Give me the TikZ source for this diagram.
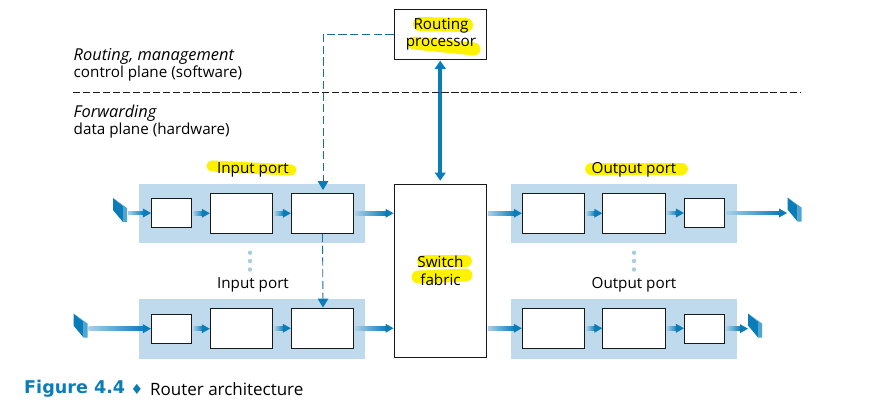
\documentclass[tikz,border=0pt]{standalone}
\usepackage{fontspec}
\setmainfont{Open Sans}
\newfontfamily\capfont{DejaVu Sans}
\usetikzlibrary{arrows.meta,calc}

\definecolor{panelblue}{HTML}{BFD9ED}
\definecolor{flowblue}{HTML}{0A7DB8}
\definecolor{flowpale}{HTML}{A9D0E8}
\definecolor{portlight}{HTML}{4FA5D2}
\definecolor{dotblue}{HTML}{A9CCE5}
\definecolor{dashblue}{HTML}{1A6F9E}
\definecolor{markyellow}{HTML}{FFF200}

\tikzset{
  panel/.style={fill=panelblue,minimum width=6.78cm,minimum height=1.78cm,inner sep=0pt},
  smallbox/.style={draw=black!90,fill=white,line width=0.9pt,minimum width=1.2cm,minimum height=0.88cm,inner sep=0pt},
  bigbox/.style={draw=black!90,fill=white,line width=0.9pt,minimum width=1.87cm,minimum height=1.21cm,inner sep=0pt},
  label/.style={font=\fontsize{13}{15}\selectfont,inner sep=0pt},
  marker/.style={draw=markyellow,line cap=round},
  ctrl/.style={draw=dashblue,line width=0.75pt,dash pattern=on 7pt off 3pt,shorten >=0.1cm},
  lineport/.pic={
    \fill[flowblue] (0,0) -- (10,8) -- (10,24) -- (0,12) -- cycle;
    \fill[portlight] (0,0) -- (14,10) -- (14,24) -- (10,24) -- (10,8) -- cycle;
  }
}

\newcommand{\flowline}[2]{%
  \shade[left color=flowpale,right color=flowblue]
    ($(#1)+(1,-1.8)$) rectangle ($(#2)+(-7,1.8)$);
  \fill[flowblue] ($(#2)+(-8,-4.5)$) -- (#2) -- ($(#2)+(-8,4.5)$) -- cycle;
}
\newcommand{\ctrltip}[1]{%
  \fill[flowblue] ($(#1)+(-5.5,-9)$) -- (#1) -- ($(#1)+(5.5,-9)$) -- cycle;
}

\begin{document}
\begin{tikzpicture}[x=0.03cm,y=-0.03cm]
  \useasboundingbox (0,0) rectangle (875,410);

  % port panels
  \node[panel] (inpanelA) at (252,213.5) {};
  \node[panel] (inpanelB) at (252,329) {};
  \node[panel] (outpanelA) at (623.5,213.5) {};
  \node[panel] (outpanelB) at (623.5,329) {};

  % boxes
  \node[smallbox] (inA1) at (171.5,213) {};
  \node[bigbox] (inA2) at (241.5,213.25) {};
  \node[bigbox] (inA3) at (322.5,213.25) {};
  \node[smallbox] (inB1) at (171.5,328.75) {};
  \node[bigbox] (inB2) at (241.5,328.25) {};
  \node[bigbox] (inB3) at (322.5,328.25) {};
  \node[bigbox] (outA1) at (553.5,213.25) {};
  \node[bigbox] (outA2) at (634,213.25) {};
  \node[smallbox] (outA3) at (704.5,213) {};
  \node[bigbox] (outB1) at (553.5,328.25) {};
  \node[bigbox] (outB2) at (634,328.25) {};
  \node[smallbox] (outB3) at (704.5,328.75) {};
  \node[draw=black!90,line width=0.9pt,minimum width=2.77cm,minimum height=1.49cm,inner sep=0pt] (rproc) at (440.25,34.25) {};
  \node[draw=black!90,line width=0.9pt,fill=white,minimum width=2.77cm,minimum height=5.19cm,inner sep=0pt] (fabric) at (440.25,270.8) {};

  % highlighter strokes
  \draw[marker,line width=9.5pt] (212,166) -- (291,170);
  \draw[marker,line width=10pt] (591,169) -- (682,169);
  \draw[marker,line width=12pt] (420,24) -- (466,25);
  \draw[marker,line width=11pt] (414,43) -- (474,49);
  \draw[marker,line width=10pt] (423,261) -- (466,261);
  \draw[marker,line width=11pt] (418,277) -- (466,275);

  % line ports
  \pic at (113,198) {lineport};
  \pic at (73.5,313.5) {lineport};
  \pic at (787.5,197.5) {lineport};
  \pic at (748,313.5) {lineport};
  \coordinate (lineA) at (127,213);
  \coordinate (lineB) at (87.5,328.7);
  \coordinate (lineC) at (787,213);
  \coordinate (lineD) at (748,328.7);

  % data path
  \flowline{lineA}{lineA -| inA1.west}
  \flowline{inA1.east}{inA2.west}
  \flowline{inA2.east}{inA3.west}
  \flowline{inA3.east}{inA3.east -| fabric.west}
  \flowline{lineB}{lineB -| inB1.west}
  \flowline{inB1.east}{inB1.east -| inB2.west}
  \flowline{inB2.east}{inB3.west}
  \flowline{inB3.east}{inB3.east -| fabric.west}
  \flowline{inA3.east -| fabric.east}{outA1.west}
  \flowline{outA1.east}{outA2.west}
  \flowline{outA2.east}{outA3.east -| outA3.west}
  \flowline{outA3.east}{lineC}
  \flowline{inB3.east -| fabric.east}{outB1.west}
  \flowline{outB1.east}{outB2.west}
  \flowline{outB2.east}{outB2.east -| outB3.west}
  \flowline{outB3.east}{lineD}

  % control lines
  \coordinate (tipA) at (323,190);
  \coordinate (tipB) at (323,307.5);
  \draw[ctrl] (rproc.west) -| (tipA);
  \ctrltip{tipA}
  \draw[ctrl] (inA3.south) -- (tipB);
  \ctrltip{tipB}
  \draw[flowblue,line width=3pt,{Triangle[length=7pt,width=9pt]}-{Triangle[length=7pt,width=9pt]},shorten <=0.03cm,shorten >=0.09cm] (rproc.south) -- (fabric.north);

  % plane boundary
  \coordinate (planeL) at (73,92);
  \coordinate (planeR) at (800,92);
  \draw[black!90,line width=0.7pt,dash pattern=on 6.3pt off 2.2pt] (planeL) -- (planeR);

  % dots
  \foreach \y in {252.7,261,269.5} {
    \fill[dotblue] (250,\y) circle (2.2);
    \fill[dotblue] (634,\y) circle (2.2);
  }

  % labels
  \node[label,anchor=west] (routing) at (73.5,56) {\fontsize{14}{15}\selectfont\itshape Routing, management};
  \node[label,anchor=west] (ctrlplane) at (73.5,73.5) {control plane (software)};
  \node[label,anchor=west] (forward) at (73.5,113) {\fontsize{14}{15}\selectfont\itshape Forwarding};
  \node[label,anchor=west] (dataplane) at (73.5,130.5) {data plane (hardware)};
  \node[label] (inlabA) at (253,170) {Input port};
  \node[label] (inlabB) at (253,285) {Input port};
  \node[label] (outlabA) at (634,170) {Output port};
  \node[label] (outlabB) at (634,285) {Output port};
  \node[label] (rlab) at (441,26) {Routing};
  \node[label] (plab) at (441,44) {processor};
  \node[label] (slab) at (440.5,262) {Switch};
  \node[label] (flab) at (440.5,280) {fabric};

  % caption
  \node[anchor=west,inner sep=0pt,text=flowblue,font=\capfont\bfseries\fontsize{15}{17}\selectfont] (figlab) at (24,389) {Figure 4.4};
  \node[anchor=center,inner sep=0pt,text=flowblue,font=\capfont\fontsize{12}{14}\selectfont] (figdot) at (137,389.5) {♦};
  \node[anchor=west,inner sep=0pt,font=\fontsize{14.5}{17}\selectfont] (figtxt) at (150,389) {Router architecture};
\end{tikzpicture}
\end{document}
